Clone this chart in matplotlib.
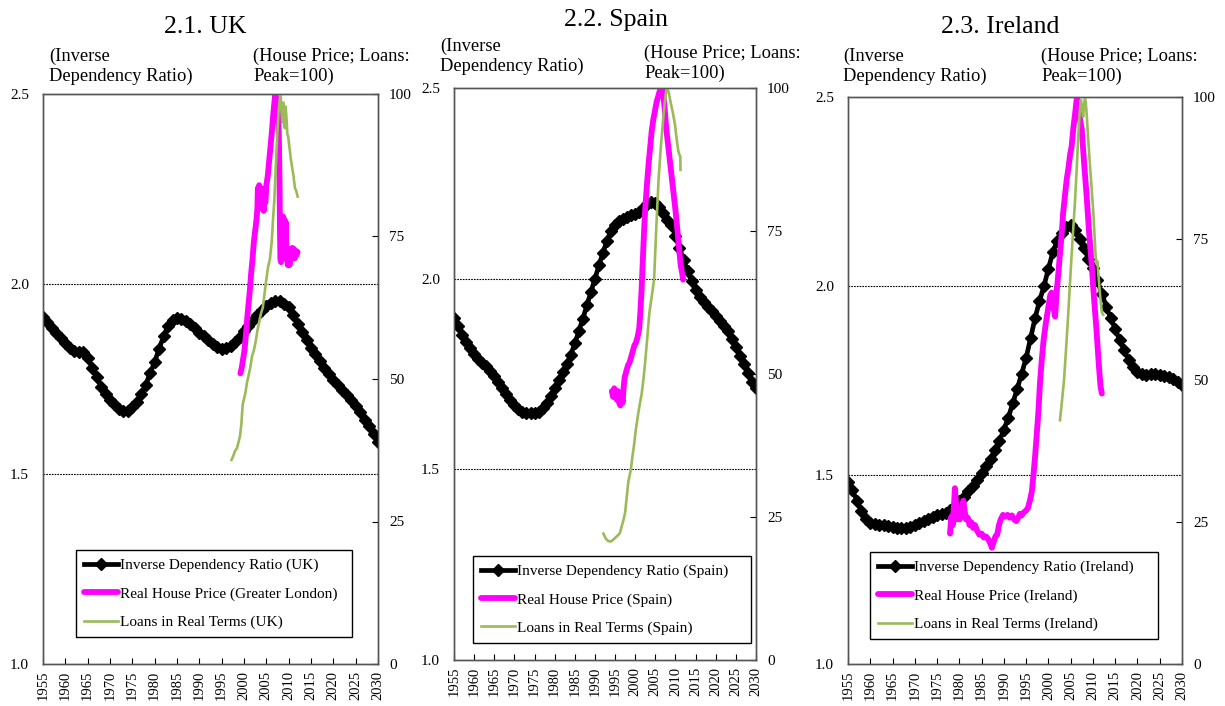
import numpy as np
import matplotlib
matplotlib.use("Agg")
import matplotlib.pyplot as plt
from matplotlib.ticker import FormatStrFormatter

plt.rcParams["font.family"] = ["Liberation Serif", "DejaVu Serif"]

years = np.arange(1955, 2031)
tick_years = np.arange(1955, 2031, 5)

# inverse dependency ratio, one value a year 1955-2030
idr_uk = [1.914, 1.900, 1.885, 1.871, 1.857, 1.845, 1.832, 1.824, 1.822, 1.820,
          1.805, 1.780, 1.755, 1.730, 1.710, 1.695, 1.683, 1.672, 1.665, 1.667,
          1.675, 1.690, 1.710, 1.735, 1.765, 1.795, 1.830, 1.862, 1.890, 1.905,
          1.910, 1.908, 1.903, 1.895, 1.883, 1.871, 1.862, 1.852, 1.843, 1.835,
          1.830, 1.832, 1.838, 1.847, 1.860, 1.875, 1.890, 1.905, 1.918, 1.932,
          1.943, 1.951, 1.955, 1.955, 1.948, 1.940, 1.918, 1.895, 1.873, 1.852,
          1.832, 1.815, 1.797, 1.780, 1.763, 1.748, 1.735, 1.722, 1.708, 1.695,
          1.680, 1.662, 1.643, 1.625, 1.605, 1.585]
idr_es = [1.896, 1.875, 1.853, 1.835, 1.818, 1.803, 1.790, 1.780, 1.770, 1.758,
          1.745, 1.730, 1.714, 1.698, 1.683, 1.668, 1.658, 1.650, 1.647, 1.647,
          1.648, 1.651, 1.660, 1.675, 1.692, 1.712, 1.733, 1.755, 1.775, 1.800,
          1.830, 1.862, 1.895, 1.930, 1.965, 2.000, 2.035, 2.068, 2.100, 2.125,
          2.140, 2.150, 2.157, 2.161, 2.166, 2.170, 2.176, 2.185, 2.195, 2.202,
          2.198, 2.187, 2.172, 2.155, 2.140, 2.112, 2.080, 2.050, 2.020, 1.993,
          1.970, 1.953, 1.938, 1.927, 1.915, 1.902, 1.889, 1.877, 1.862, 1.843,
          1.820, 1.797, 1.775, 1.752, 1.730, 1.713]
idr_ie = [1.482, 1.460, 1.432, 1.405, 1.383, 1.373, 1.370, 1.368, 1.367, 1.365,
          1.362, 1.360, 1.360, 1.361, 1.363, 1.367, 1.372, 1.378, 1.384, 1.389,
          1.393, 1.396, 1.400, 1.407, 1.418, 1.430, 1.443, 1.457, 1.472, 1.488,
          1.505, 1.523, 1.543, 1.565, 1.590, 1.620, 1.652, 1.690, 1.728, 1.768,
          1.810, 1.862, 1.915, 1.960, 2.000, 2.045, 2.090, 2.120, 2.140, 2.155,
          2.162, 2.148, 2.125, 2.100, 2.072, 2.048, 2.015, 1.980, 1.945, 1.915,
          1.886, 1.857, 1.830, 1.805, 1.785, 1.772, 1.766, 1.765, 1.766, 1.766,
          1.765, 1.763, 1.759, 1.755, 1.747, 1.738]

# real house price (peak = 100)
hp_uk_t = [1999.2, 1999.5, 1999.8, 2000.1, 2000.4, 2000.7, 2001.0, 2001.3, 2001.6, 2001.9,
           2002.2, 2002.5, 2002.8, 2003.0, 2003.1, 2003.3, 2003.4, 2003.6, 2003.8, 2004.0,
           2004.2, 2004.4, 2004.6, 2004.8, 2005.0, 2005.3, 2005.6, 2005.9, 2006.2, 2006.5,
           2006.8, 2007.0, 2007.3, 2007.6, 2007.8, 2007.95, 2008.05, 2008.15, 2008.3, 2008.45,
           2008.6, 2008.75, 2008.9, 2009.05, 2009.2, 2009.35, 2009.5, 2009.65, 2009.8, 2010.0,
           2010.2, 2010.4, 2010.6, 2010.8, 2011.0, 2011.2, 2011.4, 2011.6, 2011.8, 2012.0]
hp_uk = [51, 52, 53.5, 55, 57.5, 60.5, 63, 65.5, 68.5, 71,
         74, 76, 78, 80, 83.5, 81, 84, 80.5, 83.5, 80,
         83, 79.5, 82, 81, 84, 85.5, 88, 90.5, 93, 96,
         98.5, 100, 99, 97, 93, 85, 76, 71, 70.5, 74,
         72, 78.5, 76, 78, 73, 77.5, 71, 73, 70, 71.5,
         70, 72.5, 71, 73, 71.5, 72.8, 71.2, 72.5, 71.8, 72.3]

hp_es_t = [1994.2, 1994.5, 1994.8, 1995.1, 1995.4, 1995.7, 1996.0, 1996.3, 1996.6, 1996.9,
           1997.1, 1997.4, 1997.8, 1998.2, 1998.6, 1999.0, 1999.4, 1999.8, 2000.2, 2000.6,
           2001.0, 2001.3, 2001.6, 2001.9, 2002.2, 2002.5, 2002.9, 2003.3, 2003.7, 2004.1,
           2004.5, 2004.9, 2005.3, 2005.7, 2006.1, 2006.5, 2006.9, 2007.3, 2007.7, 2008.1,
           2008.5, 2008.9, 2009.3, 2009.7, 2010.1, 2010.5, 2010.9, 2011.3, 2011.7, 2011.9]
hp_es = [47, 46, 47.5, 46.5, 45.5, 47, 45, 44.5, 46, 45,
         47.5, 49.5, 50.5, 51.5, 52, 53, 54, 55, 55.5, 56.5,
         58, 61, 65, 70, 75, 79, 83, 86.5, 89.5, 92.5,
         94.5, 96, 97.5, 98.5, 99.5, 100, 99.5, 96.5, 93, 90.5,
         88, 85.5, 83, 80.5, 78, 75, 72, 69, 67.5, 66.5]

hp_ie_t = [1977.9, 1978.2, 1978.5, 1978.8, 1979.0, 1979.2, 1979.5, 1979.8, 1980.1, 1980.5,
           1980.9, 1981.2, 1981.5, 1981.9, 1982.3, 1982.7, 1983.1, 1983.5, 1984.0, 1984.5,
           1985.0, 1985.5, 1986.0, 1986.5, 1987.0, 1987.3, 1987.7, 1988.1, 1988.5, 1988.9,
           1989.3, 1989.8, 1990.3, 1990.8, 1991.3, 1991.8, 1992.3, 1992.8, 1993.2, 1993.6,
           1994.0, 1994.4, 1994.9, 1995.4, 1995.9, 1996.3, 1996.6, 1997.0, 1997.4, 1997.8,
           1998.1, 1998.5, 1998.9, 1999.4, 2000.0, 2000.4, 2000.7, 2001.1, 2001.5, 2001.9,
           2002.3, 2002.6, 2003.0, 2003.3, 2003.7, 2004.1, 2004.5, 2004.9, 2005.2, 2005.6,
           2006.0, 2006.4, 2006.9, 2007.5, 2008.0, 2008.6, 2009.1, 2009.7, 2010.2, 2010.8,
           2011.3, 2011.7, 2012.0]
hp_ie = [23, 26, 24.5, 28, 31, 29, 25.5, 26.5, 25.5, 27.5,
         28.8, 27, 25.5, 25.8, 24.5, 25, 24, 24.5, 23.5, 22.8,
         23, 22.3, 22.5, 22, 21.2, 20.5, 21.5, 22.5, 22.8, 24.5,
         25.5, 26.3, 26, 26.3, 25.8, 26.2, 25.5, 25.2, 25.8, 26.5,
         26.2, 26.7, 27, 27.5, 29, 30.5, 33, 36.5, 40.7, 45,
         49.5, 53.5, 57, 60, 63, 65, 65.5, 63, 61.3, 66,
         69.5, 72.4, 76, 79.5, 82.5, 85.4, 87.5, 90, 91.2, 94.5,
         97.1, 100, 97, 94.2, 88.5, 82.4, 76.5, 70.7, 65, 58.9,
         53, 49, 47.7]

# loans in real terms (peak = 100)
ln_uk_t = [1997.2, 1997.6, 1998.0, 1998.4, 1998.8, 1999.1, 1999.4, 1999.7, 2000.0, 2000.3,
           2000.7, 2001.0, 2001.4, 2001.8, 2002.2, 2002.6, 2003.0, 2003.4, 2003.8, 2004.2,
           2004.6, 2005.0, 2005.4, 2005.8, 2006.2, 2006.5, 2006.8, 2007.1, 2007.4, 2007.7,
           2008.0, 2008.2, 2008.4, 2008.6, 2008.8, 2009.0, 2009.15, 2009.3, 2009.5, 2009.7,
           2009.9, 2010.2, 2010.5, 2010.8, 2011.1, 2011.4, 2011.7, 2012.0]
ln_uk = [35.8, 36.5, 37.4, 37.8, 39, 40, 42, 45.5, 46.5, 47.5,
         49.5, 50.5, 52, 54, 55, 56.5, 58.5, 60, 61.5, 62.5,
         65, 67.5, 69.7, 71, 74, 78, 81.5, 87, 92, 96.5,
         99, 100, 97, 95, 98.5, 96, 94, 97.8, 96, 93,
         92.5, 90.5, 88.5, 87, 85.5, 83.5, 83, 82]

ln_es_t = [1992.1, 1992.7, 1993.3, 1993.9, 1994.5, 1995.1, 1995.7, 1996.2, 1996.7, 1997.1,
           1997.5, 1997.9, 1998.3, 1998.9, 1999.3, 1999.7, 2000.2, 2000.8, 2001.2, 2001.6,
           2002.0, 2002.4, 2002.9, 2003.5, 2004.1, 2004.7, 2005.2, 2005.8, 2006.4, 2007.0,
           2007.5, 2007.8, 2008.3, 2008.8, 2009.4, 2009.9, 2010.3, 2010.7, 2011.0, 2011.2,
           2011.25]
ln_es = [22.1, 21.2, 20.8, 20.7, 21.0, 21.4, 21.8, 22.2, 23.5, 24.5,
         25.8, 28.5, 31.2, 33.2, 35.5, 37.5, 40.5, 43.3, 45, 46.5,
         48.8, 51.5, 55.5, 60.6, 63.5, 66.6, 75, 84, 90, 95,
         98.5, 100, 99.3, 97.5, 95.5, 93.5, 91, 89, 88.3, 88,
         85.7]

ln_ie_t = [2002.6, 2003.0, 2003.5, 2004.0, 2004.4, 2004.8, 2005.2, 2005.6, 2006.0, 2006.4,
           2006.7, 2007.0, 2007.3, 2007.5, 2007.8, 2008.0, 2008.2, 2008.4, 2008.6, 2008.9,
           2009.3, 2009.7, 2010.1, 2010.4, 2010.6, 2010.8, 2011.0, 2011.2, 2011.6, 2012.0,
           2012.3]
ln_ie = [43, 46, 50, 56, 61, 66.5, 72, 77, 82, 88,
         93, 97, 99.5, 98.5, 96.5, 98.5, 99.8, 99, 97, 93,
         88.3, 84, 79.5, 75, 72, 70.5, 71, 68.9, 65, 62,
         61.6]

MAGENTA = "#ff00ff"
GREEN = "#9bbb59"
W, H = 1225, 706

fig = plt.figure(figsize=(W / 100, H / 100), dpi=100)


def px_rect(x0, x1, y0, y1):
    return [x0 / W, 1 - y1 / H, (x1 - x0) / W, (y1 - y0) / H]


def fig_text(x, y, s, **kw):
    fig.text(x / W, 1 - y / H, s, **kw)


def draw_panel(rect, idr, hp_t, hp, ln_t, ln, labels, leg_box):
    ax = fig.add_axes(rect)
    ax.set_xlim(1955, 2030)
    ax.set_ylim(1.0, 2.5)
    ax.set_yticks([1.0, 1.5, 2.0, 2.5])
    ax.yaxis.set_major_formatter(FormatStrFormatter("%.1f"))
    ax.set_xticks(tick_years)
    ax.set_xticklabels([str(y) for y in tick_years], rotation=90)
    ax.tick_params(axis="y", length=0, pad=10, labelsize=11)
    ax.tick_params(axis="x", direction="in", length=4, pad=5, labelsize=10.5)
    for v in (1.5, 2.0):
        ax.axhline(v, color="k", lw=0.8, ls=(0, (1.5, 1)), zorder=1)

    l1, = ax.plot(years, idr, color="k", lw=3.4, marker="D", ms=6.5, zorder=3,
                  label=labels[0])

    ax2 = ax.twinx()
    ax2.set_ylim(0, 100)
    ax2.set_yticks([0, 25, 50, 75, 100])
    ax2.tick_params(axis="y", direction="in", length=4, pad=8, labelsize=11)
    l2, = ax2.plot(hp_t, hp, color=MAGENTA, lw=4.2, solid_capstyle="round",
                   label=labels[1])
    l3, = ax2.plot(ln_t, ln, color=GREEN, lw=1.9, label=labels[2])

    for a in (ax, ax2):
        for sp in a.spines.values():
            sp.set_color("#555555")
            sp.set_linewidth(1.0)

    leg = ax2.legend(handles=[l1, l2, l3], loc="upper left", bbox_to_anchor=leg_box,
                     mode="expand", borderaxespad=0, fontsize=11, handlelength=2.2,
                     handletextpad=0.15, labelspacing=0.95, borderpad=0.55,
                     fancybox=False, framealpha=1)
    leg.get_frame().set_edgecolor("k")
    leg.get_frame().set_linewidth(1.0)
    return ax


draw_panel(px_rect(43, 378, 94, 664), idr_uk, hp_uk_t, hp_uk, ln_uk_t, ln_uk,
           ["Inverse Dependency Ratio (UK)", "Real House Price (Greater London)",
            "Loans in Real Terms (UK)"],
           (0.0985, 0.0, 0.824, 0.2))
draw_panel(px_rect(454, 756, 88, 660), idr_es, hp_es_t, hp_es, ln_es_t, ln_es,
           ["Inverse Dependency Ratio (Spain)", "Real House Price (Spain)",
            "Loans in Real Terms (Spain)"],
           (0.063, 0.0, 0.92, 0.182))
draw_panel(px_rect(848, 1182, 97, 664), idr_ie, hp_ie_t, hp_ie, ln_ie_t, ln_ie,
           ["Inverse Dependency Ratio (Ireland)", "Real House Price (Ireland)",
            "Loans in Real Terms (Ireland)"],
           (0.066, 0.0, 0.862, 0.1975))

# titles and axis notes
fig_text(205, 27, "2.1. UK", fontsize=18.5, ha="center", va="center")
fig_text(616, 20, "2.2. Spain", fontsize=18.5, ha="center", va="center")
fig_text(1000, 27, "2.3. Ireland", fontsize=18.5, ha="center", va="center")

note_l = "(Inverse\nDependency Ratio)"
note_r = "(House Price; Loans:\nPeak=100)"
kw = dict(fontsize=13.3, ha="left", va="center", linespacing=1.2)
fig_text(49, 66.5, note_l, **kw)
fig_text(253, 66.5, note_r, **kw)
fig_text(440, 56.5, note_l, **kw)
fig_text(644, 63.5, note_r, **kw)
fig_text(843, 66, note_l, **kw)
fig_text(1041, 66, note_r, **kw)

fig.savefig("out.png", dpi=100)
